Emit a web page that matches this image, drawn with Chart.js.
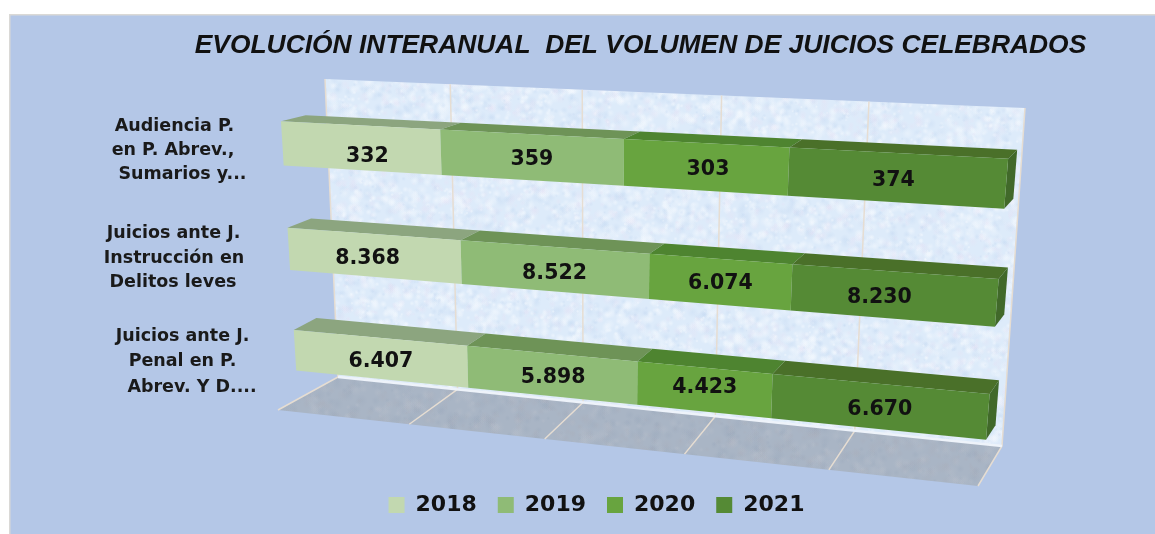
<!DOCTYPE html>
<html><head><meta charset="utf-8">
<style>html,body{margin:0;padding:0;background:#fff;overflow:hidden}
#w{width:1155px;height:534px}canvas{display:block;filter:blur(0.65px)}</style>
<script src="https://cdn.jsdelivr.net/npm/chart.js@4"></script>
</head><body><div id="w"><canvas id="c" width="1155" height="534"></canvas></div>
<script>
const categories = [
  ["Audiencia P.","en P. Abrev.,","Sumarios y..."],
  ["Juicios ante J.","Instrucción en","Delitos leves"],
  ["Juicios ante J.","Penal en P.","Abrev. Y D...."]
];
const years = ["2018","2019","2020","2021"];
const v2018 = [332, 8368, 6407];
const v2019 = [359, 8522, 5898];
const v2020 = [303, 6074, 4423];
const v2021 = [374, 8230, 6670];
const titleText = "EVOLUCIÓN INTERANUAL  DEL VOLUMEN DE JUICIOS CELEBRADOS";

const series = [v2018, v2019, v2020, v2021];
const totals = categories.map((_, i) => series.reduce((s, a) => s + a[i], 0));
const frontCol = ["#C2D8B0","#8FBB76","#68A43F","#558A35"];
const topCol   = ["#8CA57F","#6E9357","#4E8430","#4A7029"];
const sideCol  = "#41692A";

// 3D scene planes (screen corners TL,TR,BR,BL of the projected plot box)
const FRONT = [[279,89],[1011,122],[983.5,472],[298,399.5]];
const BACK  = [[304,84],[1020,114],[993,457],[320,386]];
const WALL  = [[325,79],[1025,108],[1002,446],[338,377]];
const FLOOR = [[338,377],[1002,446],[978,486],[278,410]];
const catLineCenters = [[174.5,173,182.5],[173.5,174,173],[182.5,182.5,192]];
const catLineY = [[126,150,174],[233,258,282],[336,361,387]];
const labelNudge = [[[7,7],[1,0],[3,1],[-2,1]],[[-6,1],[1,2],[1,0],[-13,1]],[[1,1],[2,1],[1,-4],[2,1]]];

function homography(q){
  const [[x0,y0],[x1,y1],[x2,y2],[x3,y3]] = q;
  const dx1=x1-x2,dx2=x3-x2,sx=x0-x1+x2-x3,dy1=y1-y2,dy2=y3-y2,sy=y0-y1+y2-y3;
  const den=dx1*dy2-dx2*dy1,g=(sx*dy2-dx2*sy)/den,h=(dx1*sy-sx*dy1)/den;
  const a=x1-x0+g*x1,b=x3-x0+h*x3,c=x0,d=y1-y0+g*y1,e=y3-y0+h*y3,f=y0;
  return (u,v)=>{const w=g*u+h*v+1;return [(a*u+b*v+c)/w,(d*u+e*v+f)/w];};
}
const pFront=homography(FRONT),pBack=homography(BACK),pWall=homography(WALL),pFloor=homography(FLOOR);

function poly(ctx,pts,fill){ctx.beginPath();pts.forEach((p,i)=>i?ctx.lineTo(p[0],p[1]):ctx.moveTo(p[0],p[1]));ctx.closePath();if(fill){ctx.fillStyle=fill;ctx.fill();}}

function texture(w,h,base,cols,seed,count,rMin,rMax){
  const c=document.createElement('canvas');c.width=w;c.height=h;const x=c.getContext('2d');
  x.fillStyle=base;x.fillRect(0,0,w,h);
  let s=seed;const r=()=>{s=(s*16807)%2147483647;return s/2147483647;};
  for(let i=0;i<count;i++){
    const px=r()*w,py=r()*h,rad=rMin+r()*(rMax-rMin),col=cols[Math.floor(r()*cols.length)];
    const gr=x.createRadialGradient(px,py,0,px,py,rad);gr.addColorStop(0,col);gr.addColorStop(1,col.replace(/[\d.]+\)$/,'0)'));
    x.fillStyle=gr;x.fillRect(px-rad,py-rad,rad*2,rad*2);
  }
  return c;
}
const wallTex=texture(740,400,"#DDEBFA",["rgba(246,250,255,.55)","rgba(198,218,242,.4)","rgba(230,226,244,.35)","rgba(240,246,253,.5)"],12345,14000,1.5,6);
const floorTex=texture(760,120,"#A9B5C5",["rgba(150,165,185,.25)","rgba(190,195,205,.25)","rgba(170,170,180,.2)"],777,2500,2,7);

const scene={
  id:'scene',
  afterLayout(chart){
    chart.titleBlock.left+=45;chart.titleBlock.right+=45;
    chart.legend.top-=8;chart.legend.bottom-=8;chart.legend.left+=1;chart.legend.right+=1;
  },
  beforeDraw(chart){
    const ctx=chart.ctx;ctx.save();
    ctx.fillStyle="#fff";ctx.fillRect(0,0,1155,534);
    ctx.fillStyle="#DAD9D6";ctx.fillRect(9,14,1146,520);
    ctx.fillStyle="#B4C7E7";ctx.fillRect(10.5,15.5,1145,519);
    ctx.restore();
  },
  beforeDatasetDraw(){return false;},
  beforeDatasetsDraw(chart){
    const ctx=chart.ctx,a=chart.chartArea,sx=chart.scales.x;
    ctx.save();
    poly(ctx,WALL);ctx.save();ctx.clip();ctx.drawImage(wallTex,310,70);ctx.restore();
    poly(ctx,FLOOR);ctx.save();ctx.clip();ctx.drawImage(floorTex,270,372);ctx.restore();
    ctx.strokeStyle="#E6DDD2";ctx.lineWidth=1.5;
    sx.ticks.forEach(t=>{
      const u=(sx.getPixelForValue(t.value)-a.left)/a.width;
      let A=pWall(u,0),B=pWall(u,1),C=pFloor(u,1);
      ctx.beginPath();ctx.moveTo(A[0],A[1]);ctx.lineTo(B[0],B[1]);ctx.lineTo(C[0],C[1]);ctx.stroke();
    });
    // wall bottom seam
    ctx.strokeStyle="#EEF3FA";ctx.lineWidth=2.5;ctx.beginPath();ctx.moveTo(WALL[3][0],WALL[3][1]);ctx.lineTo(WALL[2][0],WALL[2][1]);ctx.stroke();
    // bars: read from the chart's own elements, projected into the scene
    const n=chart.data.labels.length;
    for(let j=0;j<n;j++){
      chart.data.datasets.forEach((ds,k)=>{
        const el=chart.getDatasetMeta(k).data[j];
        const u0=(el.base-a.left)/a.width,u1=(el.x-a.left)/a.width;
        const v0=(el.y-el.height/2-a.top)/a.height,v1=(el.y+el.height/2-a.top)/a.height;
        poly(ctx,[pFront(u0,v0),pFront(u1,v0),pBack(u1,v0),pBack(u0,v0)],topCol[k]);
        if(k===chart.data.datasets.length-1)
          poly(ctx,[pFront(u1,v0),pBack(u1,v0),pBack(u1,v1),pFront(u1,v1)],sideCol);
        poly(ctx,[pFront(u0,v0),pFront(u1,v0),pFront(u1,v1),pFront(u0,v1)],ds.backgroundColor);
      });
    }
    ctx.restore();
  },
  afterDatasetsDraw(chart){
    const ctx=chart.ctx,a=chart.chartArea;
    ctx.save();
    ctx.fillStyle="#111";ctx.textAlign="center";ctx.textBaseline="middle";
    ctx.font="bold 20.5px 'DejaVu Sans'";
    chart.data.datasets.forEach((ds,k)=>{
      chart.getDatasetMeta(k).data.forEach((el,j)=>{
        const u=((el.base+el.x)/2-a.left)/a.width,v=(el.y-a.top)/a.height;
        const p=pFront(u,v),nn=labelNudge[j][k];
        ctx.fillText(series[k][j].toLocaleString('de-DE'),p[0]+nn[0],p[1]+nn[1]+2);
      });
    });
    ctx.font="bold 17.5px 'DejaVu Sans'";ctx.fillStyle="#1a1a1a";
    chart.scales.y.ticks.forEach((t,i)=>{
      const lines=chart.data.labels[t.value];
      lines.forEach((l,m)=>ctx.fillText(l,catLineCenters[i][m],catLineY[i][m]));
    });
    ctx.restore();
  }
};

new Chart(document.getElementById('c'),{
  type:'bar',
  data:{
    labels:categories,
    datasets:years.map((y,k)=>({
      label:y,
      data:series[k].map((v,i)=>v/totals[i]*100),
      backgroundColor:frontCol[k],
      borderWidth:0,
      barPercentage:0.41,
      categoryPercentage:1
    }))
  },
  plugins:[scene],
  options:{
    indexAxis:'y',responsive:false,animation:false,
    layout:{padding:{left:36,top:0,bottom:0,right:0}},
    scales:{
      x:{display:false,stacked:true,min:0,max:100,ticks:{stepSize:20}},
      y:{display:false,stacked:true}
    },
    plugins:{
      tooltip:{enabled:false},
      title:{display:true,text:titleText,color:"#111",padding:{top:30,bottom:10},
        font:{family:"'Liberation Sans'",size:26.4,weight:'bold',style:'italic'}},
      legend:{position:'bottom',
        labels:{boxWidth:16,boxHeight:16,padding:21,color:"#111",
          font:{family:"'DejaVu Sans'",size:22,weight:'bold'}}}
    }
  }
});
</script></body></html>
